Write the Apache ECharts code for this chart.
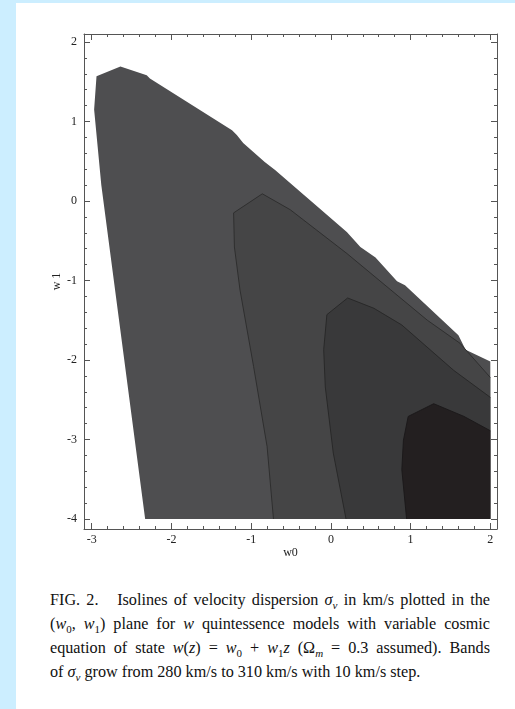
<!DOCTYPE html>
<html>
<head>
<meta charset="utf-8">
<script src="https://cdn.jsdelivr.net/npm/echarts@6/dist/echarts.min.js"></script>
<style>
  html, body { margin: 0; padding: 0; }
  body { width: 515px; height: 709px; background: #cceeff; position: relative; overflow: hidden; }
  .sheet { position: absolute; left: 16px; top: 3px; right: 0; bottom: 0; background: #fff; }
  #chart { position: absolute; left: 0; top: 0; width: 515px; height: 580px; }
  .caption { position: absolute; left: 50px; top: 588px; width: 440px;
    font-family: 'Liberation Serif', 'DejaVu Serif', serif; font-size: 16.2px; line-height: 24px; color: #111; }
  .caption div { text-align: justify; text-align-last: justify; white-space: nowrap; }
  .caption div.last { text-align-last: left; }
  .caption sub { font-size: 11px; line-height: 0; }
</style>
</head>
<body>
<div class="sheet"></div>
<div id="chart"></div>
<div class="caption">
  <div>FIG. 2.&nbsp;&nbsp; Isolines of velocity dispersion <i>σ<sub>v</sub></i> in km/s plotted in the</div>
  <div>(<i>w</i><sub>0</sub>, <i>w</i><sub>1</sub>) plane for <i>w</i> quintessence models with variable cosmic</div>
  <div>equation of state <i>w</i>(<i>z</i>) = <i>w</i><sub>0</sub> + <i>w</i><sub>1</sub><i>z</i> (Ω<sub><i>m</i></sub> = 0.3 assumed). Bands</div>
  <div class="last">of <i>σ<sub>v</sub></i> grow from 280 km/s to 310 km/s with 10 km/s step.</div>
</div>
<script>
// contour bands in the (w0, w1) plane
const band280 = [
  [-2.33, -4], [-2.88, 0.20], [-2.97, 1.15], [-2.94, 1.57], [-2.64, 1.69], [-2.31, 1.58],
  [-2.27, 1.54], [-1.24, 0.89], [-1.18, 0.83], [-1.10, 0.73], [-0.83, 0.49], [-0.70, 0.39],
  [0.20, -0.39], [0.37, -0.58], [0.56, -0.71], [0.83, -1.01], [0.93, -1.06], [1.60, -1.69],
  [1.69, -1.87], [2.0, -2.02], [2.0, -4]
];
const band290 = [
  [-0.72, -4], [-0.80, -3.09], [-0.97, -2.08], [-1.14, -1.12], [-1.21, -0.58], [-1.22, -0.15],
  [-0.86, 0.09], [-0.51, -0.11], [0.20, -0.66], [1.21, -1.50], [1.62, -1.79], [2.0, -2.22],
  [2.0, -4]
];
const band300 = [
  [0.19, -4], [0.03, -3.17], [-0.07, -2.34], [-0.09, -1.87], [-0.05, -1.43], [0.21, -1.22],
  [0.54, -1.35], [0.89, -1.56], [1.54, -2.13], [2.0, -2.47], [2.0, -4]
];
const band310 = [
  [0.95, -4], [0.89, -3.38], [0.91, -3.01], [0.97, -2.71], [1.29, -2.55], [1.67, -2.71],
  [2.0, -2.89], [2.0, -4]
];

const xMajor = [-3, -2, -1, 0, 1, 2];
const yMajor = [-4, -3, -2, -1, 0, 1, 2];
const xMinor = [-3, -2.8, -2.6, -2.4, -2.2, -2, -1.8, -1.6, -1.4, -1.2, -1, -0.8, -0.6, -0.4, -0.2,
  0, 0.2, 0.4, 0.6, 0.8, 1, 1.2, 1.4, 1.6, 1.8, 2];
const yMinor = [-4, -3.8, -3.6, -3.4, -3.2, -3, -2.8, -2.6, -2.4, -2.2, -2, -1.8, -1.6, -1.4, -1.2,
  -1, -0.8, -0.6, -0.4, -0.2, 0, 0.2, 0.4, 0.6, 0.8, 1, 1.2, 1.4, 1.6, 1.8, 2];

const frame = '#555';
const serif = "'Liberation Serif', 'DejaVu Serif', serif";

function axisPair(kind, pos, min, max, major, minor, name) {
  const base = { type: 'value', position: pos, min: min, max: max, splitLine: { show: false } };
  const main = Object.assign({}, base, {
    axisLine: { show: true, onZero: false, lineStyle: { color: frame, width: 1 } },
    axisTick: { show: true, inside: true, length: 6, customValues: major, lineStyle: { color: frame } },
    axisLabel: { show: false },
  });
  if (name) {
    main.axisLabel = {
      show: true, customValues: major, margin: kind === 'x' ? 5 : 7,
      color: '#222', fontFamily: serif, fontSize: 12,
    };
    main.name = name;
    main.nameLocation = 'middle';
    main.nameMoveOverlap = false;
    main.nameTextStyle = { color: '#222', fontFamily: serif, fontSize: 12 };
    main.nameGap = kind === 'x' ? 18 : 21;
    if (kind === 'y') main.nameRotate = 90;
  }
  const small = Object.assign({}, base, {
    axisLine: { show: false, onZero: false },
    axisTick: { show: true, inside: true, length: 3, customValues: minor, lineStyle: { color: frame } },
    axisLabel: { show: false },
  });
  return [main, small];
}

function bandItem(poly, fill, edge) {
  return function (params, api) {
    const pts = poly.map(function (p) { return api.coord(p); });
    const children = [{ type: 'polygon', shape: { points: pts }, style: { fill: fill } }];
    if (edge) {
      children.push({
        type: 'polyline', shape: { points: pts.slice(0, -1) },
        style: { stroke: edge, lineWidth: 0.9, fill: null },
      });
    }
    return { type: 'group', children: children };
  };
}

const chart = echarts.init(document.getElementById('chart'));
const xLo = -3.097, xHi = 2.084, yLo = -4.126, yHi = 2.1;

chart.setOption({
  animation: false,
  grid: { left: 84, top: 34, width: 413, height: 495 },
  xAxis: [].concat(
    axisPair('x', 'bottom', xLo, xHi, xMajor, xMinor, 'w0'),
    axisPair('x', 'top', xLo, xHi, xMajor, xMinor, null)
  ),
  yAxis: [].concat(
    axisPair('y', 'left', yLo, yHi, yMajor, yMinor, 'w 1'),
    axisPair('y', 'right', yLo, yHi, yMajor, yMinor, null)
  ),
  series: [
    { name: '280', poly: band280, fill: '#4e4e50', edge: null },
    { name: '290', poly: band290, fill: '#454546', edge: '#2b2b2b' },
    { name: '300', poly: band300, fill: '#39393a', edge: '#262626' },
    { name: '310', poly: band310, fill: '#231f20', edge: '#1a1718' },
  ].map(function (b) {
    return {
      type: 'custom', name: b.name, xAxisIndex: 0, yAxisIndex: 0, silent: true,
      data: [0], renderItem: bandItem(b.poly, b.fill, b.edge),
    };
  }),
});
</script>
</body>
</html>
